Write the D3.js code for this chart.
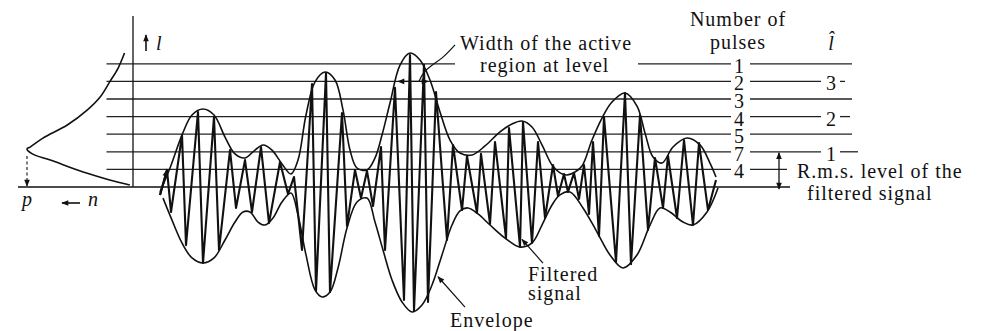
<!DOCTYPE html>
<html>
<head>
<meta charset="utf-8">
<script src="https://cdn.jsdelivr.net/npm/d3@7"></script>
<style>
  html, body { margin: 0; padding: 0; background: #fff; }
  svg { display: block; }
  text { font-family: "Liberation Serif", "Times New Roman", serif; font-size: 20px; fill: #111; letter-spacing: 1px; }
  text.it { font-style: italic; letter-spacing: 0; }
</style>
</head>
<body>
<svg id="chart" width="981" height="331"></svg>
<script>
// Threshold levels (multiples of the level step above the zero line)
const levels = [1, 2, 3, 4, 5, 6, 7];
// Number of pulses that cross each level
const pulseCounts = [4, 7, 5, 4, 3, 2, 1];
// Levels carrying an l-hat mark, and the mark values
const lhatLevels = [2, 4, 6];
const lhatValues = [1, 2, 3];
// R.m.s. level of the filtered signal (level units)
const rmsLevel = 2;
// Active region of the tallest burst, measured at one level: [level, t from, t to]
const activeRegion = [6, 47.6, 53.6];

// Envelope, upper branch: [time, level]
const upperEnvelope = [
  [0, -0.28], [2, 1.08], [4.4, 2.95], [6.4, 4.09], [8.6, 4.43], [10.8, 4.09], [13, 2.84],
  [15, 1.88], [17, 1.65], [19, 2.10], [20.6, 2.39], [22.4, 2.10], [24.4, 1.31], [26.2, 0.74],
  [27.6, 1.53], [29.2, 4.09], [31, 5.97], [33, 6.53], [35, 6.08], [36.6, 4.38], [38, 2.10],
  [39.4, 1.08], [41.4, 0.97], [43, 1.65], [44.4, 2.95], [46, 4.77], [48, 6.93], [50, 7.61],
  [52, 7.22], [54, 6.08], [56, 4.26], [58, 2.67], [60, 1.93], [62.4, 1.82], [65, 2.33],
  [68, 3.13], [70.4, 3.58], [72.4, 3.75], [74.4, 3.41], [76.4, 2.39], [78.4, 1.25], [80, 0.80],
  [81.4, 0.68], [83, 0.85], [84.4, 1.19], [86.4, 2.67], [88.4, 3.92], [90.4, 4.83], [93, 5.34],
  [95.4, 4.60], [97, 3.07], [98.6, 1.70], [100.4, 1.36], [102.6, 2.27], [105.4, 2.78],
  [108, 2.39], [110, 1.36], [111.2, 0.57]
];

// Envelope, lower branch: [time, level]
const lowerEnvelope = [
  [0.6, -0.63], [2.4, -1.88], [4.4, -3.18], [6.4, -4.03], [8.6, -4.32], [10.8, -4.03], [13, -3.01],
  [15, -1.99], [16.6, -1.42], [18, -1.42], [19.6, -1.99], [21, -2.16], [22.6, -1.76], [24.4, -0.85],
  [26.2, -0.34], [27.6, -1.59], [29.2, -3.86], [31, -5.85], [32.4, -6.25], [34, -5.97], [35.6, -4.60],
  [37.4, -2.33], [39.4, -0.85], [41.4, -0.63], [43, -1.99], [44.6, -3.58], [46.4, -5.28],
  [48.4, -6.53], [50.4, -7.10], [52.4, -6.70], [54.4, -5.57], [56.4, -3.86], [58.4, -2.16],
  [60, -1.36], [61.6, -1.19], [63.6, -1.53], [66, -2.16], [69, -2.90], [72, -3.41], [74.4, -3.18],
  [76.4, -2.16], [78.4, -1.02], [80, -0.45], [82, -0.28], [84.6, -1.19], [87.4, -2.56], [90, -3.86],
  [92.6, -4.60], [95.4, -3.86], [98, -2.16], [100, -1.19], [102, -1.42], [104.6, -1.99],
  [106.6, -2.16], [109.4, -1.42], [111.6, -0.06]
];

// Filtered signal, successive turning points: [time, level]
const filteredSignal = [
  [0, -0.45], [1.4, 0.97], [2.2, -1.42], [4.4, 2.95], [5.2, -3.30], [7.6, 4.26], [8.6, -4.32],
  [10.8, 3.98], [11.8, -3.58], [14, 2.10], [15.2, -1.19], [17, 1.53], [18.4, -1.42], [20.2, 2.27],
  [21.8, -2.05], [24, 1.42], [25.6, -0.40], [26.8, 0.57], [28.4, -3.58], [30.4, 5.85], [31.2, -5.91],
  [33.2, 6.48], [34, -5.97], [36.4, 4.20], [37.4, -2.22], [39, 0.97], [40.2, -0.63], [41.4, 0.91],
  [42.6, -1.08], [44.2, 2.27], [45, -3.58], [47, 5.63], [48.8, -6.42], [50, 7.50], [50.8, -7.05],
  [52.8, 6.95], [53.6, -6.53], [55.2, 5.40], [57.4, -3.01], [58.6, 2.39], [60.4, -1.31], [61.4, 1.76],
  [63.4, -1.48], [64.2, 1.88], [66, -2.10], [67, 2.56], [69.2, -2.90], [69.8, 3.35], [72, -3.41],
  [72.6, 3.69], [74.4, -3.18], [75.6, 2.56], [77, -1.76], [78.6, 1.25], [79.6, -0.51], [80.8, 0.74],
  [81.6, -0.28], [82.8, 0.80], [83.8, -0.68], [84.8, 1.25], [85.8, -1.53], [86.6, 2.56], [87.8, -2.78],
  [88.8, 3.98], [91.2, -4.26], [93, 5.34], [94.2, -4.38], [96, 4.09], [97.6, -2.44], [99, 1.65],
  [100.6, -1.19], [101.6, 1.76], [103.4, -1.76], [104.8, 2.67], [106.6, -2.16], [107.8, 2.50],
  [109.6, -1.31], [111.2, 0.40]
];

// Distribution of levels p(l): [level, relative count n]
const levelDensity = [
  [0.11, 0.03], [0.40, 0.22], [0.85, 0.47], [1.53, 0.78], [1.88, 0.95], [2.16, 1.00],
  [2.27, 0.97], [2.78, 0.85], [3.52, 0.62], [4.38, 0.43], [5.11, 0.31], [5.97, 0.22],
  [6.76, 0.14], [7.61, 0.08]
];

// Leader lines of the notes, in data coordinates [time, level]
const widthLeader = [[59, 8.07], [56.6, 7.33], [54.2, 6.9], [52.6, 6.5], [51.8, 6.0]];
const filteredLeader = [[76.6, -4.32], [72.4, -2.98]];
const envelopeLeader = [[61, -6.82], [55.6, -5.1]];

const svg = d3.select("#chart");
const ink = "#111";

// Scales: time -> x, level -> y, distribution count -> x (growing leftwards)
const x = d3.scaleLinear().domain([0, 112]).range([160, 720]);
const y = d3.scaleLinear().domain([0, 7]).range([187, 63.8]);
const xn = d3.scaleLinear().domain([0, 1]).range([133, 27]);

// Arrowhead marker
const defs = svg.append("defs");
defs.append("marker")
  .attr("id", "head")
  .attr("viewBox", "0 0 10 10")
  .attr("refX", 9).attr("refY", 5)
  .attr("markerUnits", "userSpaceOnUse")
  .attr("markerWidth", 8).attr("markerHeight", 7)
  .attr("orient", "auto-start-reverse")
  .append("path").attr("d", "M0,1 L10,5 L0,9 Z").attr("fill", ink);

const g = svg.append("g");

// ---- threshold lines with pulse counts and l-hat marks ----
const lineStart = xn(0.25);
const countX = 739, countGapL = 731, countGapR = 750;
const lhatX = 831;
const lines = g.append("g").attr("stroke", "#222").attr("stroke-width", 1.3);
function seg(x1, x2, yy) {
  lines.append("line").attr("x1", x1).attr("x2", x2).attr("y1", yy).attr("y2", yy);
}
levels.forEach((lv, i) => {
  const yy = y(lv);
  const hasLhat = lhatLevels.indexOf(lv);
  if (lv === 7) {
    seg(lineStart, 455, yy);
    seg(638, countGapL, yy);
  } else {
    seg(lineStart, countGapL, yy);
  }
  g.append("text").attr("x", countX).attr("y", yy + 9)
    .attr("text-anchor", "middle").style("letter-spacing", "0").text(pulseCounts[i]);
  if (lv === 1) {
    seg(countGapR, 787, yy);
  } else if (hasLhat >= 0) {
    seg(countGapR, 821, yy);
    g.append("text").attr("x", lhatX).attr("y", yy + 9)
      .attr("text-anchor", "middle").style("letter-spacing", "0").text(lhatValues[hasLhat]);
    seg(840, [858, 850, 845][hasLhat], yy);
  } else {
    seg(countGapR, 852, yy);
  }
});

// zero line and level axis
g.append("line").attr("x1", 18).attr("x2", 790).attr("y1", y(0)).attr("y2", y(0))
  .attr("stroke", ink).attr("stroke-width", 1.4);
g.append("line").attr("x1", xn(0)).attr("x2", xn(0)).attr("y1", 16).attr("y2", y(0))
  .attr("stroke", ink).attr("stroke-width", 1.3);

// ---- level distribution on the left ----
g.append("path").datum(levelDensity)
  .attr("d", d3.line().x(d => xn(d[1])).y(d => y(d[0])).curve(d3.curveCatmullRom.alpha(0.5)))
  .attr("fill", "none").attr("stroke", ink).attr("stroke-width", 1.6);
const peak = levelDensity.reduce((a, b) => (b[1] > a[1] ? b : a));
g.append("line").attr("x1", xn(peak[1])).attr("x2", xn(peak[1]))
  .attr("y1", y(peak[0]) + 7).attr("y2", y(0) - 1)
  .attr("stroke", ink).attr("stroke-width", 1.1).attr("stroke-dasharray", "3,2.5")
  .attr("marker-end", "url(#head)");

// ---- envelope ----
const envLine = d3.line().x(d => x(d[0])).y(d => y(d[1])).curve(d3.curveCatmullRom.alpha(0.5));
[upperEnvelope, lowerEnvelope].forEach(env => {
  g.append("path").datum(env).attr("d", envLine)
    .attr("fill", "none").attr("stroke", ink).attr("stroke-width", 1.6);
});

// ---- filtered signal ----
const sigLine = d3.line().x(d => x(d[0])).y(d => y(d[1]));
g.append("path").datum(filteredSignal).attr("d", sigLine)
  .attr("fill", "none").attr("stroke", ink).attr("stroke-width", 2.1)
  .attr("stroke-linejoin", "round");
g.append("path").datum(filteredSignal.slice(0, 2)).attr("d", sigLine)
  .attr("fill", "none").attr("stroke", ink).attr("stroke-width", 2.1)
  .attr("marker-end", "url(#head)");

// width of the active region at a level
const [wl, w0, w1] = activeRegion;
const wm = (w0 + w1) / 2;
[[wm, w0], [wm, w1]].forEach(([a, b]) => {
  g.append("line").attr("x1", x(a)).attr("x2", x(b)).attr("y1", y(wl)).attr("y2", y(wl))
    .attr("stroke", ink).attr("stroke-width", 1.2).attr("marker-end", "url(#head)");
});

// r.m.s. level arrow
g.append("line").attr("x1", 779).attr("x2", 779).attr("y1", y(rmsLevel) + 1).attr("y2", y(0) + 2)
  .attr("stroke", ink).attr("stroke-width", 1.3)
  .attr("marker-start", "url(#head)").attr("marker-end", "url(#head)");

// leader lines
const leader = d3.line().x(d => x(d[0])).y(d => y(d[1]));
g.append("path").datum(widthLeader).attr("d", leader.curve(d3.curveBasis))
  .attr("fill", "none").attr("stroke", ink).attr("stroke-width", 1.2);
leader.curve(d3.curveLinear);
[filteredLeader, envelopeLeader].forEach(l => {
  g.append("path").datum(l).attr("d", leader)
    .attr("fill", "none").attr("stroke", ink).attr("stroke-width", 1.2)
    .attr("marker-end", "url(#head)");
});

// axis arrows
g.append("line").attr("x1", 146).attr("x2", 146).attr("y1", 51).attr("y2", 35)
  .attr("stroke", ink).attr("stroke-width", 1.6).attr("marker-end", "url(#head)");
g.append("line").attr("x1", 80).attr("x2", 62).attr("y1", 203).attr("y2", 203)
  .attr("stroke", ink).attr("stroke-width", 1.6).attr("marker-end", "url(#head)");

// ---- texts ----
function label(t, xx, yy, opts = {}) {
  const el = g.append("text").attr("x", xx).attr("y", yy).text(t);
  if (opts.anchor) el.attr("text-anchor", opts.anchor);
  if (opts.italic) el.attr("class", "it");
  return el;
}
label("l", 156, 50, { italic: true });
label("p", 22, 206, { italic: true });
label("n", 88, 206, { italic: true });
label("Width of the active", 460, 50);
label("region at level", 480, 72);
label("Number of", 738, 26, { anchor: "middle" });
label("pulses", 738, 49, { anchor: "middle" });
label("l\u0302", lhatX, 50, { anchor: "middle", italic: true });
label("R.m.s. level of the", 797, 178);
label("filtered signal", 807, 200);
label("Filtered", 528, 281);
label("signal", 528, 300);
label("Envelope", 450, 327);
</script>
</body>
</html>
